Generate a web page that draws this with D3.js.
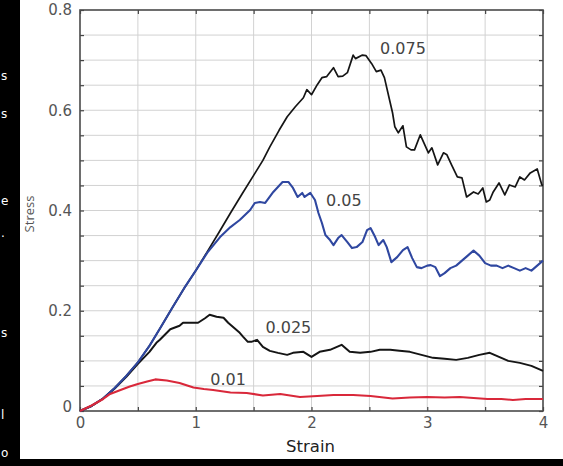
<!DOCTYPE html>
<html>
<head>
<meta charset="utf-8">
<script src="https://cdn.jsdelivr.net/npm/d3@7"></script>
<style>
  body { margin: 0; background: #fff; }
  svg { display: block; }
</style>
</head>
<body>
<div id="chart-wrapper"></div>
<script>
// strain / stress pairs, one array per strain rate
var rate075 = [[0,0],[0.1,0.01],[0.2,0.025],[0.3,0.046],[0.4,0.07],[0.5,0.097],[0.6,0.13],[0.7,0.168],[0.8,0.207],[0.9,0.245],[1.0,0.28],[1.1,0.318],[1.2,0.356],[1.3,0.395],[1.4,0.433],[1.5,0.47],[1.58,0.50],[1.64,0.527],[1.72,0.56],[1.79,0.587],[1.86,0.607],[1.93,0.625],[1.96,0.641],[2.0,0.631],[2.05,0.651],[2.09,0.665],[2.13,0.667],[2.19,0.685],[2.23,0.667],[2.27,0.668],[2.31,0.675],[2.36,0.71],[2.38,0.703],[2.44,0.71],[2.47,0.709],[2.52,0.693],[2.56,0.677],[2.6,0.68],[2.63,0.665],[2.67,0.625],[2.70,0.595],[2.72,0.567],[2.75,0.555],[2.79,0.569],[2.82,0.527],[2.86,0.521],[2.89,0.521],[2.94,0.551],[3.01,0.515],[3.04,0.525],[3.09,0.491],[3.14,0.515],[3.17,0.511],[3.21,0.491],[3.26,0.467],[3.30,0.465],[3.34,0.427],[3.40,0.437],[3.44,0.433],[3.48,0.445],[3.51,0.417],[3.54,0.421],[3.57,0.437],[3.62,0.455],[3.67,0.431],[3.71,0.451],[3.76,0.447],[3.80,0.467],[3.84,0.461],[3.89,0.475],[3.95,0.483],[3.99,0.451],[4.0,0.45]];
var rate05 = [[0,0],[0.1,0.01],[0.2,0.025],[0.3,0.046],[0.4,0.07],[0.5,0.097],[0.6,0.13],[0.7,0.168],[0.8,0.207],[0.9,0.245],[1.0,0.28],[1.1,0.316],[1.21,0.347],[1.3,0.367],[1.38,0.381],[1.47,0.401],[1.51,0.415],[1.555,0.417],[1.6,0.415],[1.67,0.437],[1.71,0.447],[1.75,0.457],[1.8,0.457],[1.84,0.445],[1.88,0.427],[1.92,0.435],[1.94,0.427],[1.99,0.435],[2.03,0.421],[2.06,0.395],[2.09,0.375],[2.12,0.351],[2.16,0.341],[2.19,0.331],[2.23,0.345],[2.26,0.351],[2.31,0.337],[2.35,0.325],[2.39,0.327],[2.44,0.337],[2.48,0.361],[2.51,0.365],[2.55,0.347],[2.58,0.331],[2.62,0.341],[2.65,0.327],[2.69,0.297],[2.74,0.307],[2.79,0.321],[2.83,0.327],[2.87,0.305],[2.91,0.287],[2.95,0.285],[3.0,0.29],[3.03,0.291],[3.07,0.287],[3.11,0.269],[3.15,0.275],[3.2,0.285],[3.25,0.29],[3.3,0.30],[3.35,0.31],[3.4,0.32],[3.45,0.31],[3.5,0.295],[3.55,0.29],[3.6,0.29],[3.65,0.285],[3.7,0.29],[3.75,0.285],[3.8,0.28],[3.85,0.285],[3.9,0.28],[3.95,0.29],[4.0,0.30]];
var rate025 = [[0,0],[0.1,0.01],[0.2,0.025],[0.3,0.045],[0.4,0.068],[0.5,0.094],[0.6,0.118],[0.66,0.136],[0.69,0.142],[0.78,0.163],[0.86,0.17],[0.89,0.176],[0.95,0.176],[1.02,0.176],[1.08,0.185],[1.12,0.192],[1.18,0.188],[1.24,0.186],[1.28,0.176],[1.32,0.168],[1.38,0.156],[1.41,0.148],[1.45,0.138],[1.48,0.138],[1.53,0.142],[1.58,0.128],[1.64,0.12],[1.71,0.116],[1.79,0.112],[1.84,0.116],[1.93,0.118],[2.0,0.108],[2.07,0.118],[2.16,0.122],[2.26,0.132],[2.33,0.118],[2.42,0.116],[2.51,0.118],[2.59,0.122],[2.68,0.122],[2.76,0.12],[2.85,0.118],[2.95,0.112],[3.05,0.106],[3.15,0.104],[3.25,0.102],[3.35,0.106],[3.45,0.112],[3.54,0.116],[3.62,0.108],[3.7,0.1],[3.8,0.096],[3.9,0.09],[4.0,0.08]];
var rate01 = [[0,0],[0.1,0.011],[0.2,0.024],[0.26,0.034],[0.35,0.042],[0.43,0.049],[0.5,0.054],[0.58,0.059],[0.65,0.063],[0.75,0.061],[0.86,0.056],[0.98,0.047],[1.07,0.044],[1.15,0.042],[1.3,0.037],[1.44,0.036],[1.58,0.031],[1.73,0.034],[1.9,0.028],[2.05,0.03],[2.19,0.032],[2.36,0.032],[2.51,0.03],[2.7,0.025],[2.85,0.027],[3.0,0.028],[3.15,0.027],[3.28,0.028],[3.4,0.026],[3.52,0.024],[3.64,0.024],[3.74,0.022],[3.85,0.024],[3.97,0.024],[4.0,0.024]];

var seriesNames = ["0.075", "0.025", "0.05", "0.01"];
var xTicks = [0, 1, 2, 3, 4];
var yTicks = [0, 0.2, 0.4, 0.6, 0.8];

var width = 563, height = 466;
var x = d3.scaleLinear().domain([0, 4]).range([80, 543]);
var y = d3.scaleLinear().domain([0, 0.8]).range([411, 10]);

var svg = d3.select('#chart-wrapper').append('svg')
  .attr('width', width).attr('height', height);

// black scan borders of the original figure, with the stray letters of the page text
svg.append('rect').attr('x', 0).attr('y', 0).attr('width', 20).attr('height', height).attr('fill', '#000');
svg.append('rect').attr('x', 0).attr('y', 459).attr('width', width).attr('height', height - 459).attr('fill', '#000');
var strayText = [["s", 75], ["s", 113], ["e", 200], [".", 232], ["s", 332], ["l", 414], ["o", 452]];
svg.selectAll('text.stray').data(strayText).enter()
  .append('text').attr('class', 'stray')
  .attr('x', 1).attr('y', function(d){ return d[1] + 5; })
  .attr('font-family', 'DejaVu Sans').attr('font-size', 12).attr('fill', '#fff')
  .text(function(d){ return d[0]; });

// grid lines every 0.5 strain and 0.05 stress
var gridX = d3.range(0.5, 4, 0.5), gridY = d3.range(0.05, 0.8, 0.05);
var grid = svg.append('g').attr('class', 'grid');
grid.selectAll('line.gx').data(gridX).enter().append('line').attr('class', 'gx')
  .attr('x1', function(d){ return x(d); }).attr('x2', function(d){ return x(d); })
  .attr('y1', y(0)).attr('y2', y(0.8))
  .attr('stroke', '#d2d2d2').attr('stroke-width', 1);
grid.selectAll('line.gy').data(gridY).enter().append('line').attr('class', 'gy')
  .attr('y1', function(d){ return y(d); }).attr('y2', function(d){ return y(d); })
  .attr('x1', x(0)).attr('x2', x(4))
  .attr('stroke', '#d2d2d2').attr('stroke-width', 1);

// inward ticks on all four sides
var minorX = d3.range(0, 4.01, 0.5), minorY = d3.range(0, 0.801, 0.05);
function tickStyle(g){
  g.select('.domain').remove();
  g.selectAll('.tick line').attr('stroke', '#444').attr('stroke-width', 1.2);
  g.selectAll('.tick text').remove();
}
svg.append('g').attr('transform', 'translate(0,' + y(0) + ')')
  .call(d3.axisBottom(x).tickValues(minorX).tickSize(-4)).call(tickStyle);
svg.append('g').attr('transform', 'translate(0,' + y(0.8) + ')')
  .call(d3.axisTop(x).tickValues(minorX).tickSize(-4)).call(tickStyle);
svg.append('g').attr('transform', 'translate(' + x(0) + ',0)')
  .call(d3.axisLeft(y).tickValues(minorY).tickSize(-4)).call(tickStyle);
svg.append('g').attr('transform', 'translate(' + x(4) + ',0)')
  .call(d3.axisRight(y).tickValues(minorY).tickSize(-4)).call(tickStyle);

// labelled axes
var xAxis = svg.append('g').attr('transform', 'translate(0,' + y(0) + ')')
  .call(d3.axisBottom(x).tickValues(xTicks).tickSize(0).tickPadding(6).tickFormat(d3.format('d')));
var yAxis = svg.append('g').attr('transform', 'translate(' + x(0) + ',0)')
  .call(d3.axisLeft(y).tickValues(yTicks).tickSize(0).tickPadding(8).tickFormat(function(d){ return d === 0 ? '0' : d3.format('.1f')(d); }));
[xAxis, yAxis].forEach(function(a){
  a.select('.domain').remove();
  a.selectAll('.tick text').attr('font-family', 'DejaVu Sans').attr('font-size', 15).attr('fill', '#555');
});
yAxis.selectAll('.tick text').filter(function(d){ return d === 0; }).attr('dy', '0.05em');

// frame
svg.append('rect')
  .attr('x', x(0)).attr('y', y(0.8))
  .attr('width', x(4) - x(0)).attr('height', y(0) - y(0.8))
  .attr('fill', 'none').attr('stroke', '#4a4a4a').attr('stroke-width', 1.6);

// curves
var series = [
  { name: seriesNames[0], values: rate075, color: '#151515', w: 1.7, at: [2.79, 0.724] },
  { name: seriesNames[1], values: rate025, color: '#151515', w: 2, at: [1.80, 0.168] },
  { name: seriesNames[2], values: rate05, color: '#2f47a0', w: 2.1, at: [2.28, 0.421] },
  { name: seriesNames[3], values: rate01, color: '#d9283a', w: 2.1, at: [1.28, 0.064] }
];
var line = d3.line()
  .x(function(d){ return x(d[0]); })
  .y(function(d){ return y(d[1]); });

svg.append('g').attr('class', 'curves')
  .selectAll('path').data(series).enter()
  .append('path')
  .attr('d', function(d){ return line(d.values); })
  .attr('fill', 'none')
  .attr('stroke', function(d){ return d.color; })
  .attr('stroke-width', function(d){ return d.w; })
  .attr('stroke-linejoin', 'round');

svg.append('g').attr('class', 'curve-labels')
  .selectAll('text').data(series).enter()
  .append('text')
  .attr('x', function(d){ return x(d.at[0]); })
  .attr('y', function(d){ return y(d.at[1]); })
  .attr('dy', '0.36em')
  .attr('text-anchor', 'middle')
  .attr('font-family', 'DejaVu Sans').attr('font-size', 16).attr('fill', '#444')
  .text(function(d){ return d.name; });

// axis titles
svg.append('text')
  .attr('x', (x(0) + x(4)) / 2 - 1).attr('y', 452)
  .attr('text-anchor', 'middle')
  .attr('font-family', 'DejaVu Sans').attr('font-size', 16.5).attr('fill', '#222')
  .text('Strain');
svg.append('text')
  .attr('transform', 'translate(34,214) rotate(-90)')
  .attr('text-anchor', 'middle')
  .attr('font-family', 'Open Sans').attr('font-size', 13).attr('fill', '#555')
  .text('Stress');
</script>
</body>
</html>
